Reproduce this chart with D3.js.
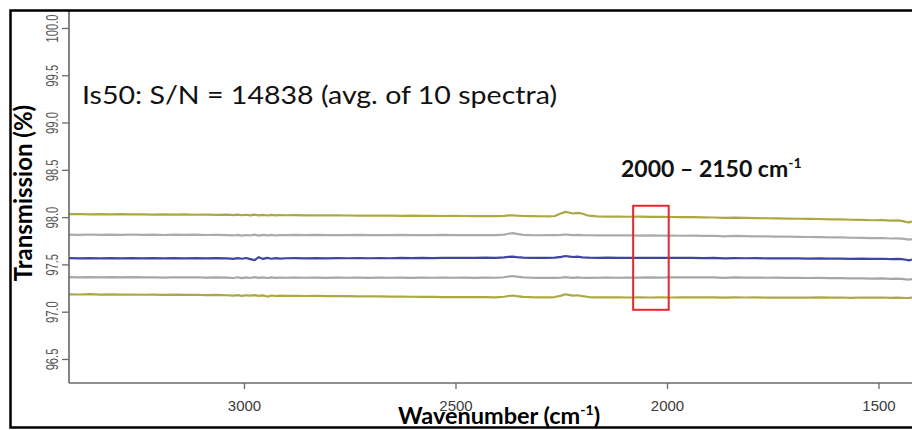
<!DOCTYPE html>
<html>
<head>
<meta charset="utf-8">
<script src="https://cdn.jsdelivr.net/npm/d3@7"></script>
<style>
  html, body { margin: 0; padding: 0; background: #fff; }
  svg { display: block; }
</style>
</head>
<body>
<svg id="chart" width="912" height="430"></svg>
<script>
// Wavenumber grid (cm-1), high to low
const wavenumbers = [
  3414, 3390, 3365, 3340, 3315, 3290, 3265, 3240, 3215, 3190,
  3165, 3140, 3115, 3090, 3065, 3040, 3025, 3015, 3005, 2995,
  2985, 2975, 2965, 2955, 2945, 2935, 2925, 2915, 2900, 2880,
  2855, 2830, 2805, 2780, 2755, 2730, 2705, 2680, 2655, 2630,
  2605, 2580, 2555, 2530, 2505, 2480, 2455, 2430, 2405, 2385,
  2375, 2365, 2355, 2340, 2320, 2300, 2280, 2265, 2250, 2240,
  2230, 2222, 2212, 2200, 2185, 2165, 2140, 2115, 2090, 2065,
  2040, 2015, 1990, 1965, 1940, 1915, 1890, 1865, 1840, 1815,
  1790, 1765, 1740, 1715, 1690, 1665, 1640, 1615, 1590, 1565,
  1540, 1515, 1490, 1470, 1455, 1445, 1435, 1428, 1421
];

// Upper envelope (mean + 3 sd), transmission %
const upperOlive = [
  98.031, 98.033, 98.030, 98.032, 98.029, 98.031, 98.028, 98.030, 98.027, 98.029,
  98.026, 98.028, 98.025, 98.027, 98.024, 98.026, 98.022, 98.026, 98.020, 98.025,
  98.018, 98.027, 98.019, 98.024, 98.017, 98.023, 98.019, 98.022, 98.020, 98.021,
  98.019, 98.020, 98.018, 98.019, 98.017, 98.016, 98.017, 98.015, 98.016, 98.014,
  98.015, 98.013, 98.014, 98.012, 98.013, 98.012, 98.011, 98.012, 98.010, 98.013,
  98.018, 98.020, 98.016, 98.012, 98.010, 98.009, 98.008, 98.012, 98.040, 98.055,
  98.046, 98.038, 98.044, 98.036, 98.015, 98.008, 98.006, 98.005, 98.004, 98.005,
  98.003, 98.002, 98.001, 98.000, 98.000, 97.997, 97.996, 97.992, 97.994, 97.991,
  97.989, 97.988, 97.986, 97.985, 97.983, 97.981, 97.980, 97.977, 97.976, 97.972,
  97.970, 97.967, 97.968, 97.963, 97.965, 97.960, 97.950, 97.944, 97.952
];

// Upper gray band (mean + 1 sd)
const upperGray = [
  97.815, 97.813, 97.816, 97.812, 97.815, 97.813, 97.816, 97.812, 97.814, 97.811,
  97.815, 97.812, 97.814, 97.811, 97.813, 97.810, 97.806, 97.813, 97.804, 97.811,
  97.806, 97.815, 97.805, 97.812, 97.807, 97.813, 97.806, 97.811, 97.809, 97.812,
  97.810, 97.812, 97.809, 97.811, 97.810, 97.812, 97.809, 97.811, 97.810, 97.812,
  97.809, 97.811, 97.810, 97.812, 97.810, 97.811, 97.809, 97.811, 97.810, 97.815,
  97.824, 97.830, 97.822, 97.813, 97.809, 97.808, 97.810, 97.809, 97.812, 97.816,
  97.812, 97.809, 97.813, 97.810, 97.808, 97.807, 97.808, 97.806, 97.807, 97.805,
  97.806, 97.804, 97.805, 97.803, 97.804, 97.802, 97.803, 97.797, 97.801, 97.798,
  97.797, 97.796, 97.794, 97.793, 97.791, 97.790, 97.788, 97.786, 97.785, 97.782,
  97.780, 97.778, 97.779, 97.774, 97.776, 97.772, 97.767, 97.762, 97.768
];

// Average of 10 spectra
const meanSpectrum = [
  97.566, 97.563, 97.567, 97.564, 97.566, 97.563, 97.567, 97.564, 97.566, 97.563,
  97.567, 97.564, 97.566, 97.563, 97.566, 97.563, 97.558, 97.566, 97.560, 97.568,
  97.556, 97.545, 97.576, 97.558, 97.569, 97.560, 97.567, 97.562, 97.565, 97.567,
  97.564, 97.566, 97.564, 97.567, 97.565, 97.566, 97.565, 97.567, 97.565, 97.568,
  97.566, 97.568, 97.567, 97.569, 97.568, 97.570, 97.569, 97.571, 97.570, 97.574,
  97.580, 97.583, 97.577, 97.572, 97.570, 97.569, 97.570, 97.572, 97.580, 97.589,
  97.583, 97.578, 97.582, 97.575, 97.571, 97.570, 97.571, 97.569, 97.570, 97.569,
  97.570, 97.568, 97.569, 97.568, 97.569, 97.567, 97.568, 97.563, 97.567, 97.565,
  97.566, 97.564, 97.565, 97.563, 97.564, 97.562, 97.563, 97.561, 97.562, 97.559,
  97.561, 97.558, 97.560, 97.556, 97.559, 97.555, 97.549, 97.543, 97.552
];

// Lower gray band (mean - 1 sd)
const lowerGray = [
  97.365, 97.363, 97.366, 97.362, 97.365, 97.363, 97.365, 97.362, 97.364, 97.361,
  97.364, 97.362, 97.364, 97.361, 97.363, 97.360, 97.356, 97.364, 97.355, 97.362,
  97.356, 97.365, 97.357, 97.363, 97.356, 97.362, 97.357, 97.361, 97.359, 97.361,
  97.359, 97.361, 97.358, 97.360, 97.359, 97.361, 97.358, 97.360, 97.359, 97.361,
  97.358, 97.360, 97.359, 97.361, 97.359, 97.360, 97.358, 97.360, 97.359, 97.364,
  97.372, 97.377, 97.370, 97.362, 97.359, 97.358, 97.359, 97.358, 97.361, 97.365,
  97.361, 97.358, 97.362, 97.359, 97.358, 97.359, 97.360, 97.359, 97.361, 97.360,
  97.362, 97.361, 97.363, 97.362, 97.364, 97.362, 97.363, 97.358, 97.362, 97.360,
  97.361, 97.359, 97.360, 97.357, 97.358, 97.356, 97.357, 97.354, 97.355, 97.352,
  97.353, 97.350, 97.352, 97.348, 97.350, 97.347, 97.342, 97.340, 97.345
];

// Lower envelope (mean - 3 sd)
const lowerOlive = [
  97.184, 97.182, 97.185, 97.181, 97.183, 97.180, 97.182, 97.179, 97.181, 97.178,
  97.180, 97.177, 97.179, 97.176, 97.177, 97.174, 97.170, 97.176, 97.168, 97.174,
  97.169, 97.175, 97.167, 97.172, 97.160, 97.171, 97.166, 97.170, 97.167, 97.168,
  97.166, 97.167, 97.165, 97.166, 97.164, 97.163, 97.162, 97.161, 97.160, 97.159,
  97.158, 97.157, 97.156, 97.155, 97.155, 97.154, 97.153, 97.153, 97.152, 97.158,
  97.166, 97.171, 97.164, 97.156, 97.153, 97.152, 97.152, 97.155, 97.170, 97.184,
  97.176, 97.170, 97.174, 97.165, 97.155, 97.152, 97.151, 97.152, 97.150, 97.151,
  97.150, 97.151, 97.150, 97.151, 97.152, 97.151, 97.152, 97.148, 97.151, 97.150,
  97.151, 97.149, 97.150, 97.148, 97.150, 97.149, 97.151, 97.149, 97.150, 97.147,
  97.150, 97.148, 97.150, 97.146, 97.149, 97.147, 97.145, 97.146, 97.148
];

const yTicks = [96.5, 97.0, 97.5, 98.0, 98.5, 99.0, 99.5, 100.0];
const xTicks = [3000, 2500, 2000, 1500];
const windowRange = [2080, 1996];      // highlighted window edges (cm-1)
const windowLevels = [98.12, 97.02];   // highlighted window top/bottom (%)

const titleText = "Is50: S/N = 14838 (avg. of 10 spectra)";
const windowText = "2000 \u2013 2150 cm";
const yAxisText = "Transmission (%)";
const xAxisText = "Wavenumber (cm";

const series = [
  { values: upperOlive,   color: "#a3a02e" },
  { values: upperGray,    color: "#a2a2a2" },
  { values: meanSpectrum, color: "#2e3192" },
  { values: lowerGray,    color: "#9c9c9c" },
  { values: lowerOlive,   color: "#a3a02e" }
];

const svg = d3.select("#chart");
const plot = { left: 69, right: 912, top: 10, bottom: 383 };

const x = d3.scaleLinear().domain([3413.7, 1420.8]).range([plot.left, plot.right]);
const y = d3.scaleLinear().domain([96.246, 100.19]).range([plot.bottom, plot.top]);

svg.append("defs").append("clipPath").attr("id", "plotClip")
  .append("rect")
  .attr("x", plot.left).attr("y", plot.top)
  .attr("width", plot.right - plot.left).attr("height", plot.bottom - plot.top);

svg.select("defs").append("clipPath").attr("id", "frameClip")
  .append("rect").attr("x", 0).attr("y", 0).attr("width", 912).attr("height", 427);

// Spectra
const line = d3.line()
  .x((d, i) => x(wavenumbers[i]))
  .y(d => y(d));

const lines = svg.append("g").attr("clip-path", "url(#plotClip)");
series.forEach(s => {
  lines.append("path")
    .attr("d", line(s.values))
    .attr("fill", "none")
    .attr("stroke", s.color)
    .attr("stroke-width", 2.2)
    .attr("stroke-linejoin", "round")
    .attr("stroke-opacity", 0.9);
});

// Plot box (left and bottom edges)
svg.append("line")
  .attr("x1", plot.left).attr("x2", plot.left)
  .attr("y1", plot.top).attr("y2", plot.bottom)
  .attr("stroke", "#5a5a5a").attr("stroke-width", 1.5);
svg.append("line")
  .attr("x1", plot.left).attr("x2", 912)
  .attr("y1", plot.bottom).attr("y2", plot.bottom)
  .attr("stroke", "#6a6a6a").attr("stroke-width", 1.5);

// Y axis
const yAxis = d3.axisLeft(y).tickValues(yTicks).tickSize(7).tickFormat(d3.format(".1f"));
const gy = svg.append("g").attr("transform", `translate(${plot.left},0)`).call(yAxis);
gy.select(".domain").remove();
gy.selectAll(".tick line").attr("stroke", "#6a6a6a").attr("stroke-width", 1.3);
gy.selectAll(".tick text")
  .attr("x", null).attr("dy", null)
  .attr("text-anchor", "middle")
  .attr("fill", "#555")
  .style("font-family", "'Liberation Sans', Arial, sans-serif")
  .style("font-size", "16px")
  .attr("transform", "translate(-17,0) rotate(-90) scale(0.7,1) translate(0,6)");

// X axis
const xAxis = d3.axisBottom(x).tickValues(xTicks).tickSize(6).tickFormat(d3.format("d"));
const gx = svg.append("g").attr("transform", `translate(0,${plot.bottom})`).call(xAxis);
gx.select(".domain").remove();
gx.selectAll(".tick line").attr("stroke", "#6a6a6a").attr("stroke-width", 1.3);
gx.selectAll(".tick text")
  .attr("y", 28).attr("dy", null)
  .attr("fill", "#3a3a3a")
  .style("font-family", "'Liberation Sans', Arial, sans-serif")
  .style("font-size", "15px");

// Highlighted window
svg.append("rect")
  .attr("x", x(windowRange[0]))
  .attr("y", y(windowLevels[0]))
  .attr("width", x(windowRange[1]) - x(windowRange[0]))
  .attr("height", y(windowLevels[1]) - y(windowLevels[0]))
  .attr("fill", "none")
  .attr("stroke", "#e8262b")
  .attr("stroke-width", 2);

// Annotations
const textFont = "Lato, 'Open Sans', sans-serif";

svg.append("text")
  .attr("x", 82).attr("y", 104)
  .attr("textLength", 475).attr("lengthAdjust", "spacingAndGlyphs")
  .style("font-family", textFont).style("font-size", "25px")
  .attr("fill", "#111")
  .text(titleText);

const wt = svg.append("text")
  .attr("x", 621).attr("y", 177)
  .style("font-family", textFont).style("font-size", "23px").style("font-weight", "bold")
  .attr("fill", "#111");
wt.append("tspan").text(windowText);
wt.append("tspan").attr("dy", -9).style("font-size", "14px").text("-1");

// Axis titles
const yt = svg.append("text")
  .attr("transform", "translate(32,193) rotate(-90)")
  .attr("text-anchor", "middle")
  .style("font-family", textFont).style("font-size", "24px").style("font-weight", "bold")
  .attr("fill", "#000");
yt.append("tspan").text(yAxisText);

// faint underlying axis title, mostly hidden by the frame
const ghost = svg.append("text")
  .attr("clip-path", "url(#frameClip)")
  .attr("x", 490).attr("y", 438)
  .attr("text-anchor", "middle")
  .style("font-family", "'Liberation Sans', Arial, sans-serif").style("font-size", "15px")
  .attr("fill", "#555");
ghost.append("tspan").text("Wavenumber (cm");
ghost.append("tspan").attr("dy", -6).style("font-size", "10px").text("-1");
ghost.append("tspan").attr("dy", 6).text(")");

const xt = svg.append("text")
  .attr("x", 398).attr("y", 424)
  .style("font-family", textFont).style("font-size", "23.5px").style("font-weight", "bold")
  .attr("fill", "#000");
xt.append("tspan").text(xAxisText);
xt.append("tspan").attr("dy", -9).style("font-size", "14px").text("-1");
xt.append("tspan").attr("dy", 9).text(")");

// Outer frame
svg.append("rect")
  .attr("x", 10.5).attr("y", 10.5)
  .attr("width", 920).attr("height", 417)
  .attr("fill", "none")
  .attr("stroke", "#000")
  .attr("stroke-width", 2.5);
</script>
</body>
</html>
